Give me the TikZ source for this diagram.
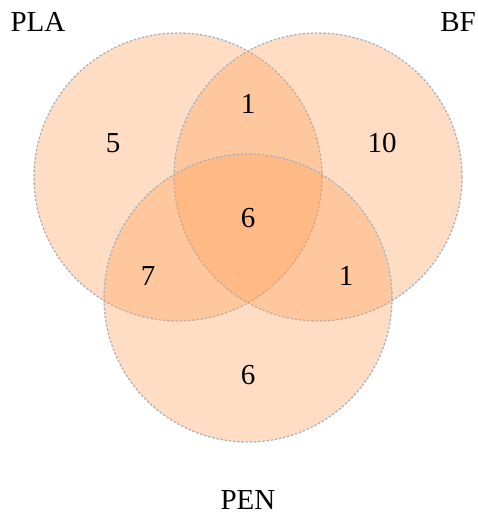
\documentclass[tikz,border=0pt]{standalone}
\usepackage{fontspec}
\setmainfont{Liberation Serif}
\definecolor{vennfill}{HTML}{FF9E55}
\definecolor{vennline}{HTML}{A9B2BC}
\tikzset{
  venn/.style={circle, minimum size=288pt, inner sep=0pt, fill=vennfill, fill opacity=0.35,
    draw=vennline, draw opacity=1, line width=1.3pt, dash pattern=on 2.4pt off 1.8pt},
  lbl/.style={font=\fontsize{29}{35}\selectfont, text=black, inner sep=0pt},
}
\begin{document}
\begin{tikzpicture}[x=1pt,y=-1pt]
\useasboundingbox (0,0) rectangle (478,522);
\node[venn] (pla) at (178,177) {};
\node[venn] (bf) at (318,177) {};
\node[venn] (pen) at (248,298) {};
\node[lbl] (tpla) at (38,22) {PLA};
\node[lbl] (tbf) at (458,22) {BF};
\node[lbl] (tpen) at (248,500) {PEN};
\node[lbl] (n5) at (113,143) {5};
\node[lbl] (n1a) at (248,104) {1};
\node[lbl] (n10) at (382,143) {10};
\node[lbl] (n6c) at (248,218) {6};
\node[lbl] (n7) at (148,276) {7};
\node[lbl] (n1b) at (346,276) {1};
\node[lbl] (n6) at (248,375) {6};
\end{tikzpicture}
\end{document}
